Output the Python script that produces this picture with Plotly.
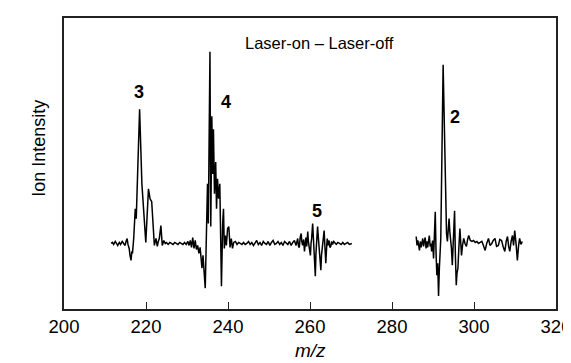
import plotly.graph_objects as go

# m/z and ion intensity (arbitrary units), left scan window
left_mz = [211.5, 211.8, 212.1, 212.5, 212.8, 213.1, 213.5, 213.8, 214.2, 214.5, 214.9, 215.2, 215.4, 215.6, 215.9,
           216.1, 216.35, 216.55, 216.7, 217.0, 217.38, 217.62, 218.44, 219.0, 219.95, 220.6, 220.99, 221.39, 221.7,
           222.04, 222.43, 222.76, 223.0, 223.25, 223.63, 223.97, 224.35, 224.7, 225.0, 225.4, 225.8, 226.2, 226.6,
           227.0, 227.4, 227.8, 228.2, 228.6, 229.0, 229.4, 229.8, 230.2, 230.5, 230.8, 231.1, 231.4, 231.7, 232.0,
           232.3, 232.6, 232.9, 233.2, 233.45, 233.65, 233.9, 234.2, 234.45,
           235.0, 235.2, 235.6, 235.8, 236.05, 236.25, 236.45, 236.7, 237.0, 237.2, 237.45, 237.7, 238.0, 238.2,
           238.4, 238.7, 238.9, 239.1, 239.35, 239.6, 239.9, 240.2, 240.5, 240.8, 241.1, 241.4,
           241.8, 242.2, 242.6, 243.0, 243.4, 243.8, 244.2, 244.6, 245.0, 245.4, 245.8, 246.2, 246.6, 247.0, 247.4,
           247.8, 248.2, 248.6, 249.0, 249.4, 249.8, 250.2, 250.6, 251.0, 251.4, 251.8, 252.2, 252.6, 253.0, 253.4,
           253.8, 254.2, 254.6, 255.0, 255.4, 255.8, 256.2, 256.6,
           257.0, 257.2, 257.4, 257.6, 257.85, 258.0, 258.2, 258.45, 258.65, 258.85, 259.0, 259.2, 259.45, 259.6,
           259.8, 260.1, 260.25, 260.4, 260.65, 260.8, 261.0, 261.15, 261.3, 261.45, 261.6, 261.85, 262.0, 262.2,
           262.4, 262.65, 262.8, 263.0, 263.2, 263.45, 263.6, 263.85, 264.0, 264.2, 264.4, 264.65, 264.85, 265.05,
           265.3, 265.5, 265.8, 266.1, 266.4, 266.8, 267.2, 267.6, 268.0, 268.4, 268.8, 269.2, 269.6, 270.0, 270.2]
left_int = [0, 1, -1, 2, 0, -2, 1, -1, 2, 0, -2, 3, 5, -1, -5,
            -12, -17, -8, -10, 5, 35, 25, 135, 60, 1, 55, 45, 42, 20,
            -2, 5, -3, 2, 5, 18, -2, 3, 0, 1, -1, 1, 0, -1,
            1, 0, -1, 1, 0, -1, 1, -1, 2, -2, 3, -4, 6, -5, 3,
            -6, -2, -10, -4, -15, -25, -12, -35, -45,
            60, 20, 193, 17, 128, 70, 115, 50, 82, 35, 65, 45, 60, 15,
            -43, 20, 35, -5, 8, -2, 15, 17, -4, 5, -5, 1,
            2, -1, 1, 0, -1, 1, -1, 0, 2, -1, 1, -2, 0, 3, -1,
            1, -2, 2, 0, -1, 2, -2, 1, 3, -1, 0, 2, -1, 1, -2,
            2, 0, -1, 2, -2, 1, 3, -2,
            5, -3, -4, 6, 10, 2, -2, 4, -8, 0, 6, -3, 12, 2,
            -5, -12, 0, 5, 20, 5, -10, -20, -33, -10, 0, 17, 8, -5,
            -15, -27, -12, -5, 5, 13, 0, -20, -8, 5, -2, 3, -4, -3,
            2, -1, 2, 0, -1, 1, 0, -1, 1, -1, 0, 1, -1, 0, 0]

# right scan window
right_mz = [285.9, 286.1, 286.3, 286.7, 286.9, 287.1, 287.5, 287.7, 287.9, 288.1, 288.3, 288.5, 288.7, 288.9,
            289.1, 289.3, 289.5, 289.66, 289.9, 290.14, 290.35, 290.55, 290.75, 290.94, 291.15, 291.35, 291.55,
            291.75, 291.9, 292.47, 292.79, 293.1, 293.3, 293.51, 293.7, 293.92, 294.1, 294.3, 294.5, 294.71, 295.0,
            295.26, 295.45, 295.67, 295.85, 296.08, 296.3, 296.56, 296.75, 296.95, 297.2, 297.5, 297.8, 298.15,
            298.45, 298.72, 299.1, 299.52, 299.9, 300.3, 300.72, 301.1, 301.5, 301.92, 302.3, 302.72, 303.1,
            303.53, 303.9, 304.33, 304.7, 305.12, 305.5, 305.94, 306.3, 306.73, 307.1, 307.52, 307.85, 308.17,
            308.45, 308.73, 309.05, 309.38, 309.65, 309.93, 310.25, 310.58, 310.85, 311.13, 311.45, 311.78]
right_int = [7, -2, 3, -7, 2, -4, 5, -3, 2, 6, -5, 2, -4, 3,
             8, -3, 0, -8, 3, -15, 5, 32, -10, -32, -20, -53, -25,
             -12, 5, 180, 112, 58, 10, 2, 10, 25, 12, 5, -5, -22, 5,
             33, -10, -42, -30, -25, -5, 15, 2, -12, -2, 5, 0, -3,
             4, 8, 3, 2, 3, 1, 2, 0, 1, 2, -2, -7, 0,
             5, -2, 0, 3, 5, -3, -2, 4, 3, -3, -8, 2, 7,
             -3, -8, 2, 8, -2, 13, 0, -17, -3, 5, -1, 2]

peak_labels = ["3", "4", "5", "2"]
peak_label_mz = [218.4, 239.4, 261.8, 295.4]
peak_label_int = [152, 142, 33, 127]

x_ticks = [200, 220, 240, 260, 280, 300, 320]

FONT = "Arial, Liberation Sans, Helvetica, sans-serif"

fig = go.Figure()
line = dict(color="black", width=1.5)
fig.add_trace(go.Scatter(x=left_mz, y=left_int, mode="lines", line=line, showlegend=False))
fig.add_trace(go.Scatter(x=right_mz, y=right_int, mode="lines", line=line, showlegend=False))

for t, mx, my in zip(peak_labels, peak_label_mz, peak_label_int):
    fig.add_annotation(x=mx, y=my, text="<b>%s</b>" % t, showarrow=False,
                       font=dict(family=FONT, size=18, color="black"))

fig.add_annotation(x=262.3, y=202, text="Laser-on \u2013 Laser-off", showarrow=False,
                   font=dict(family=FONT, size=16.5, color="black"))
fig.add_annotation(xref="paper", yref="paper", x=0.5, y=-0.184, text="<i>m/z</i>", showarrow=False,
                   font=dict(family=FONT, size=19, color="black"))
fig.add_annotation(xref="paper", yref="paper", x=-0.076, y=0.553, text="Ion Intensity", showarrow=False,
                   textangle=-90, font=dict(family=FONT, size=18, color="black"))

fig.update_layout(
    width=571, height=363,
    margin=dict(l=56, r=17, t=8, b=62),
    paper_bgcolor="white", plot_bgcolor="white",
    font=dict(family=FONT, color="black"),
)
fig.update_xaxes(range=[200, 320], tickvals=x_ticks, ticktext=[str(v) for v in x_ticks],
                 ticks="inside", ticklen=7, tickwidth=1.3, tickcolor="#222",
                 showline=True, linecolor="#222", linewidth=1.5, mirror=True,
                 showgrid=False, zeroline=False, tickfont=dict(family=FONT, size=18.5, color="black"))
fig.update_yaxes(range=[-66, 227], showticklabels=False, ticks="",
                 showline=True, linecolor="#222", linewidth=1.5, mirror=True,
                 showgrid=False, zeroline=False)

fig.write_html("out.html")
